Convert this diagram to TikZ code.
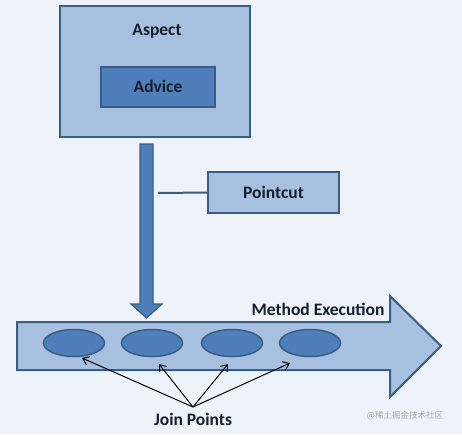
\documentclass[tikz,border=0pt]{standalone}
\usepackage{fontspec}
\setmainfont{Carlito}
\newfontfamily\cjk{Noto Sans CJK SC}
\definecolor{bg}{HTML}{EEF3F9}
\definecolor{lightfill}{HTML}{A8C0DF}
\definecolor{darkfill}{HTML}{4F7FBA}
\definecolor{edge}{HTML}{3A5D86}
\definecolor{txt}{HTML}{141E2C}
\tikzset{
  lbl/.style={font=\fontsize{17.5}{20}\selectfont\bfseries, text=txt},
  lightbox/.style={draw=edge, line width=2pt, fill=lightfill},
  darkbox/.style={draw=edge, line width=1.5pt, fill=darkfill},
  jp/.style={ellipse, draw=edge, line width=1.5pt, fill=darkfill, minimum width=61pt, minimum height=27pt, inner sep=0pt},
  ptr/.style={-{Straight Barb[length=6pt,width=9pt,line width=1pt]}, line width=1pt, draw=black},
}
\usetikzlibrary{shapes.geometric,arrows.meta}
\begin{document}
\begin{tikzpicture}[x=1pt,y=-1pt]
\fill[bg] (0,0) rectangle (462,434);
\useasboundingbox (0,0) rectangle (462,434);
% Aspect box
\draw[lightbox] (60,6) rectangle (250,137);
\node[lbl] (aspect) at (157,31) {Aspect};
\draw[darkbox] (101,67) rectangle (215,107);
\node[lbl] (advice) at (158,86) {Advice};
% vertical arrow
\draw[edge, line width=1.2pt, fill=darkfill] (140,144) -- (153,144) -- (153,304) -- (162,304) -- (146.5,318) -- (131,304) -- (140,304) -- cycle;
\coordinate (pcstart) at (158,193);
% pointcut
\node[lightbox, minimum width=131pt, minimum height=41pt, inner sep=0pt, lbl] (pointcut) at (273.5,192.5) {Pointcut};
\draw[edge, line width=2pt] (pcstart) -- (pointcut.west);
% big arrow
\draw[edge, line width=2pt, fill=lightfill] (17,322) -- (390,322) -- (390,296) -- (441,346) -- (390,397) -- (390,370) -- (17,370) -- cycle;
\node[lbl, anchor=east] (method) at (388,309) {Method Execution};
% join points
\node[jp] (j1) at (74,343) {};
\node[jp] (j2) at (152,343) {};
\node[jp] (j3) at (232,343) {};
\node[jp] (j4) at (310,343) {};
\node[lbl] (join) at (193,419) {Join Points};
\coordinate (jsrc) at (193,407);
\draw[ptr] (jsrc) -- (82,358);
\draw[ptr] (jsrc) -- (159,364);
\draw[ptr] (jsrc) -- (228,364);
\draw[ptr] (jsrc) -- (290,363);
% watermark
\node[text=black!35, font=\cjk\fontsize{8.5}{10}\selectfont] (wm) at (405,416) {@稀土掘金技术社区};
\end{tikzpicture}
\end{document}
